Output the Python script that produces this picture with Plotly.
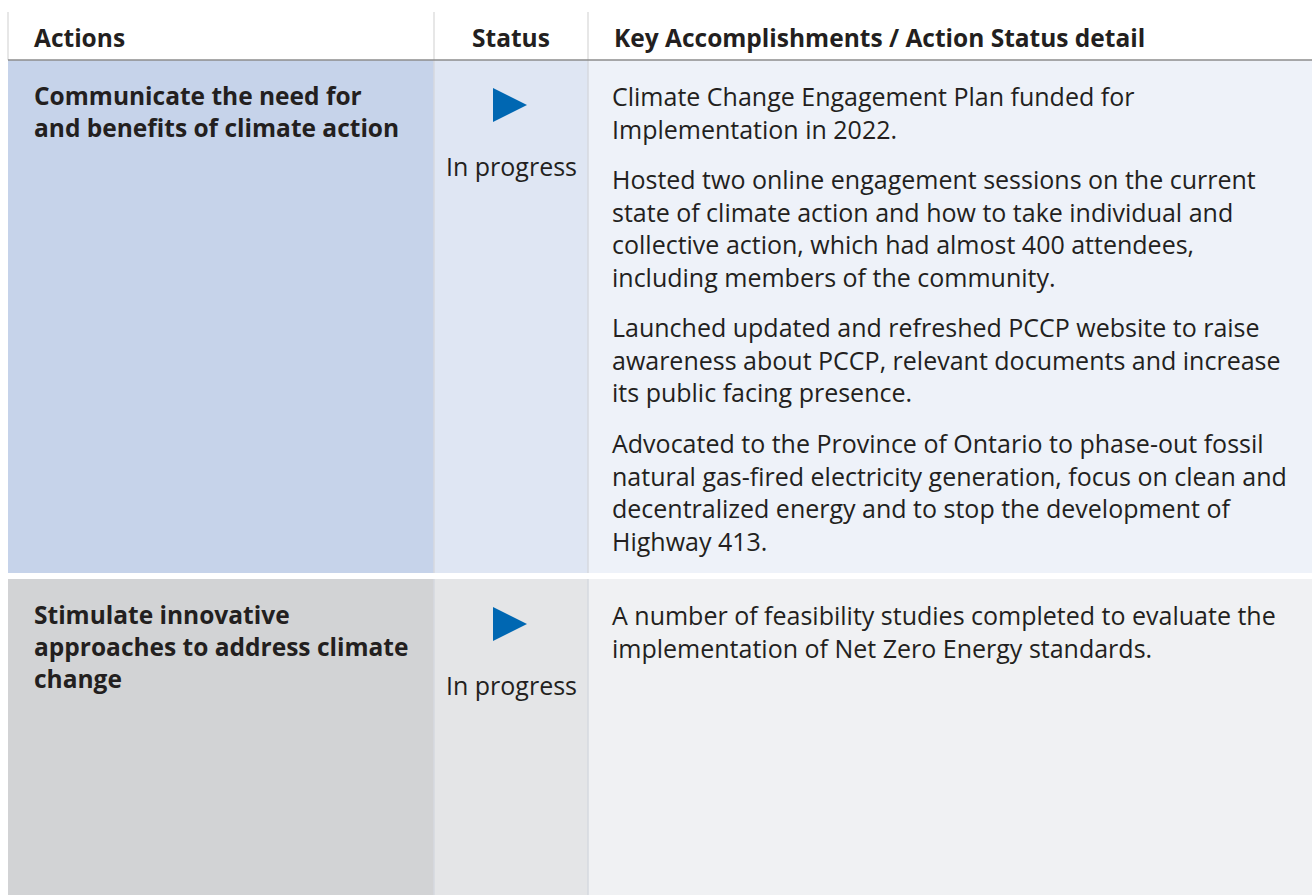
import plotly.graph_objects as go

# ── Data ─────────────────────────────────────────────────────────────────────
headers = ["Actions", "Status", "Key Accomplishments / Action Status detail"]

actions = [
    "Communicate the need for<br>and benefits of climate action",
    "Stimulate innovative<br>approaches to address climate<br>change",
]

statuses = ["In progress", "In progress"]

details = [
    [
        "Climate Change Engagement Plan funded for<br>Implementation in 2022.",
        "Hosted two online engagement sessions on the current<br>state of climate action and how to take individual and<br>"
        "collective action, which had almost 400 attendees,<br>including members of the community.",
        "Launched updated and refreshed PCCP website to raise<br>awareness about PCCP, relevant documents and increase<br>"
        "its public facing presence.",
        "Advocated to the Province of Ontario to phase-out fossil<br>natural gas-fired electricity generation, focus on clean and<br>"
        "decentralized energy and to stop the development of<br>Highway 413.",
    ],
    [
        "A number of feasibility studies completed to evaluate the<br>implementation of Net Zero Energy standards.",
    ],
]

# ── Layout / theme ───────────────────────────────────────────────────────────
W, H = 1312, 895
COL_X = [8, 434, 588, W]            # column edges
ROWS = [(60, 573), (579, H)]        # row top / bottom

ROW_FILLS = [
    ["#c6d3ea", "#dfe6f3", "#eef2f9"],
    ["#d2d3d5", "#e4e5e7", "#f0f1f3"],
]
TEXT = "#231f20"
ARROW = "#0067b2"
FONT = "'Open Sans', 'Noto Sans', sans-serif"
FS = 25          # body text
FS_B = 24.5      # bold text
LINE_H = 1.3 * FS
PARA_GAP = 18

STATUS_SYMBOL = {"In progress": "arrow-right"}

shapes = []
annotations = []

# header
for i, h in enumerate(headers):
    x0, x1 = COL_X[i], COL_X[i + 1]
    if i == 1:
        ax, xanchor = (x0 + x1) / 2, "center"
    else:
        ax, xanchor = x0 + 24, "left"
    annotations.append(dict(
        x=ax, y=37, text=f"<b>{h}</b>", xanchor=xanchor, yanchor="middle",
        showarrow=False, font=dict(family=FONT, size=FS_B, color=TEXT),
    ))
for x in COL_X[:3]:
    shapes.append(dict(type="line", x0=x, x1=x, y0=12, y1=60,
                       line=dict(color="#cfcfcf", width=1)))

# body cells
for r, (top, bot) in enumerate(ROWS):
    for c in range(3):
        shapes.append(dict(type="rect", x0=COL_X[c], x1=COL_X[c + 1], y0=top, y1=bot,
                           fillcolor=ROW_FILLS[r][c], line=dict(width=0), layer="below"))
    for x in COL_X[1:3]:
        shapes.append(dict(type="line", x0=x, x1=x, y0=top, y1=bot,
                           line=dict(color="#d6d9df", width=1.5)))

shapes.append(dict(type="line", x0=COL_X[0], x1=W, y0=60, y1=60,
                   line=dict(color="#8c8c8c", width=1.5)))

text_top = [r[0] + 17 for r in ROWS]

# action text
for r, a in enumerate(actions):
    annotations.append(dict(
        x=COL_X[0] + 24, y=text_top[r], text=f"<b>{a}</b>", xanchor="left", yanchor="top",
        align="left", showarrow=False, font=dict(family=FONT, size=FS_B, color=TEXT),
    ))

# status label
for r, s in enumerate(statuses):
    annotations.append(dict(
        x=(COL_X[1] + COL_X[2]) / 2, y=ROWS[r][0] + 106, text=s, xanchor="center",
        yanchor="middle", showarrow=False, font=dict(family=FONT, size=FS, color=TEXT),
    ))

# detail paragraphs
for r, paras in enumerate(details):
    y = text_top[r]
    for p in paras:
        annotations.append(dict(
            x=COL_X[2] + 22, y=y, text=p, xanchor="left", yanchor="top", align="left",
            showarrow=False, font=dict(family=FONT, size=FS, color=TEXT),
        ))
        y += (p.count("<br>") + 1) * LINE_H + PARA_GAP

fig = go.Figure()

# status icons
fig.add_trace(go.Scatter(
    x=[(COL_X[1] + COL_X[2]) / 2 + 16 for _ in statuses],
    y=[top + 45 for top, _ in ROWS],
    mode="markers",
    marker=dict(symbol=[STATUS_SYMBOL[s] for s in statuses], size=34, color=ARROW,
                line=dict(width=0)),
    hoverinfo="skip",
    showlegend=False,
))

fig.update_layout(
    width=W, height=H,
    margin=dict(l=0, r=0, t=0, b=0),
    paper_bgcolor="white",
    plot_bgcolor="white",
    xaxis=dict(range=[0, W], visible=False, fixedrange=True),
    yaxis=dict(range=[H, 0], visible=False, fixedrange=True),
    shapes=shapes,
    annotations=annotations,
    showlegend=False,
)

fig.write_html(
    "out.html",
    config={"displayModeBar": False},
    post_script="document.body.style.margin='0';document.body.style.overflow='hidden';",
)
